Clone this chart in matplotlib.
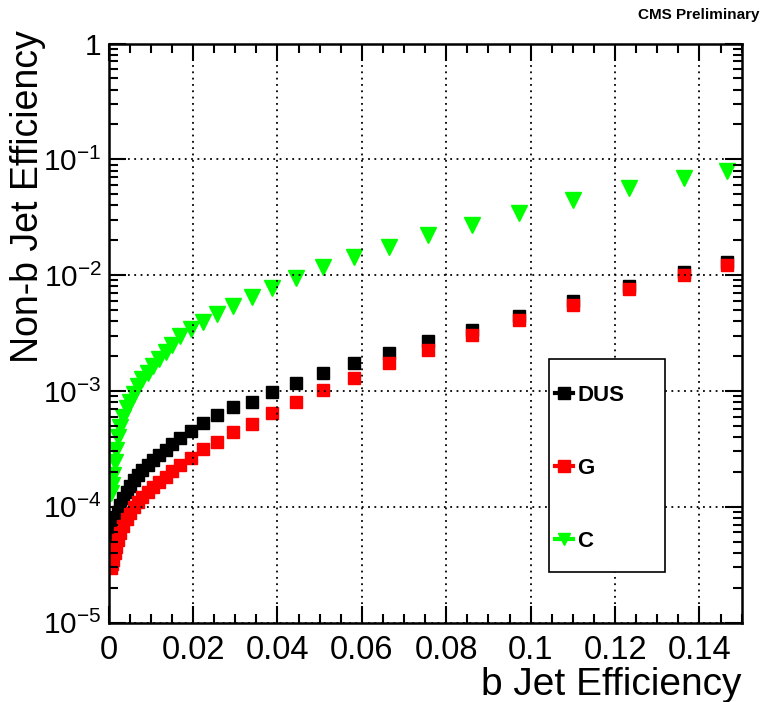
import matplotlib
matplotlib.use('Agg')
import matplotlib.pyplot as plt
from matplotlib.ticker import FixedLocator, MultipleLocator, LogLocator, FuncFormatter, NullFormatter
from matplotlib.lines import Line2D
from matplotlib.patches import Rectangle
import numpy as np

plt.rcParams['font.family'] = ['Liberation Sans', 'DejaVu Sans']
plt.rcParams['mathtext.fontset'] = 'custom'
plt.rcParams['mathtext.rm'] = 'Liberation Sans'

# b jet efficiency (common scan points)
b_eff = [0.0005, 0.0008, 0.0010, 0.0014, 0.0017, 0.0022, 0.0028, 0.0035, 0.0043,
         0.0050, 0.0061, 0.0070, 0.0080, 0.0092, 0.0106, 0.0120, 0.0135, 0.0151,
         0.0170, 0.0194, 0.0224, 0.0257, 0.0295, 0.0339, 0.0388, 0.0444, 0.0508,
         0.0581, 0.0664, 0.0756, 0.0860, 0.0973, 0.1101, 0.1234, 0.1364, 0.1466]

# mistag efficiencies
dus_eff = [5.5e-5, 5.8e-5, 6.3e-5, 7.1e-5, 8.0e-5, 9.0e-5, 1.04e-4, 1.19e-4, 1.34e-4,
           1.51e-4, 1.70e-4, 1.88e-4, 2.07e-4, 2.29e-4, 2.53e-4, 2.79e-4, 3.09e-4, 3.48e-4,
           3.94e-4, 4.53e-4, 5.31e-4, 6.19e-4, 7.22e-4, 8.1e-4, 9.84e-4, 1.18e-3, 1.42e-3,
           1.73e-3, 2.14e-3, 2.70e-3, 3.38e-3, 4.46e-3, 6.01e-3, 8.0e-3, 1.06e-2, 1.30e-2]
g_eff = [2.96e-5, 3.2e-5, 3.5e-5, 4.0e-5, 4.5e-5, 5.15e-5, 5.9e-5, 6.8e-5, 7.8e-5,
         8.8e-5, 9.9e-5, 1.10e-4, 1.22e-4, 1.35e-4, 1.49e-4, 1.64e-4, 1.82e-4, 2.03e-4,
         2.29e-4, 2.62e-4, 3.13e-4, 3.64e-4, 4.39e-4, 5.2e-4, 6.41e-4, 8.07e-4, 1.02e-3,
         1.30e-3, 1.73e-3, 2.26e-3, 3.02e-3, 4.07e-3, 5.55e-3, 7.63e-3, 9.95e-3, 1.22e-2]
c_eff = [1.31e-4, 1.55e-4, 1.88e-4, 2.43e-4, 3.09e-4, 4.0e-4, 4.88e-4, 5.98e-4, 7.08e-4,
         8.07e-4, 9.5e-4, 1.10e-3, 1.26e-3, 1.42e-3, 1.64e-3, 1.88e-3, 2.18e-3, 2.49e-3,
         2.98e-3, 3.43e-3, 3.96e-3, 4.61e-3, 5.44e-3, 6.5e-3, 7.69e-3, 9.4e-3, 1.17e-2,
         1.42e-2, 1.76e-2, 2.2e-2, 2.71e-2, 3.46e-2, 4.45e-2, 5.62e-2, 6.86e-2, 7.97e-2]

x_ticks = [0, 0.02, 0.04, 0.06, 0.08, 0.1, 0.12, 0.14]
x_tick_labels = ['0', '0.02', '0.04', '0.06', '0.08', '0.1', '0.12', '0.14']

fig = plt.figure(figsize=(7.67, 7.02), dpi=100)
ax = fig.add_axes([0.1417, 0.1132, 0.8253, 0.8248])

ax.plot(b_eff, dus_eff, ls='none', marker='s', ms=9, color='black', mec='black')
ax.plot(b_eff, g_eff, ls='none', marker='s', ms=9, color='#ff0000', mec='#ff0000')
ax.plot(b_eff, c_eff, ls='none', marker='v', ms=11, color='#00ff00', mec='#00ff00')

ax.set_yscale('log')
ax.set_xlim(0, 0.15)
ax.set_ylim(1e-5, 1)

ax.xaxis.set_major_locator(FixedLocator(x_ticks))
ax.set_xticklabels(x_tick_labels)
ax.xaxis.set_minor_locator(MultipleLocator(0.005))
ax.yaxis.set_major_locator(LogLocator(base=10, numticks=10))
ax.yaxis.set_minor_locator(LogLocator(base=10, subs=np.arange(2, 10), numticks=20))
ax.yaxis.set_minor_formatter(NullFormatter())


def ylab(v, pos):
    e = int(round(np.log10(v)))
    if e == 0:
        return '1'
    return r'$\mathregular{10^{%d}}$' % e


ax.yaxis.set_major_formatter(FuncFormatter(ylab))

ax.tick_params(which='both', direction='in', top=True, right=True, width=1.5, colors='black')
ax.tick_params(which='major', length=12)
ax.tick_params(which='minor', length=6.5)
ax.tick_params(axis='x', which='major', labelsize=23.5, pad=9)
ax.tick_params(axis='y', which='major', labelsize=21.5, pad=5)
for s in ax.spines.values():
    s.set_linewidth(1.8)

ax.grid(True, which='major', color='black', linestyle=(0, (1, 2.5)), linewidth=1.3)
ax.set_axisbelow(False)

fig.text(0.9674, 0.024, 'b Jet Efficiency', ha='right', va='center', fontsize=28)
fig.text(0.036, 0.957, 'Non-b Jet Efficiency', ha='center', va='top', rotation=90, fontsize=27)
fig.text(0.99, 0.978, 'CMS Preliminary', ha='right', va='center', fontsize=11, fontweight='bold')

# legend box (ROOT style TLegend)
box = Rectangle((0.696, 0.0877), 0.183, 0.367, transform=ax.transAxes,
                facecolor='white', edgecolor='black', linewidth=1.2, zorder=5)
ax.add_patch(box)

handles = [Line2D([], [], ls='-', lw=3, marker='s', ms=8, color='black'),
           Line2D([], [], ls='-', lw=3, marker='s', ms=8, color='#ff0000'),
           Line2D([], [], ls='-', lw=3, marker='v', ms=9, color='#00ff00')]
leg = ax.legend(handles, ['DUS', 'G', 'C'], loc='upper left',
                bbox_to_anchor=(0.705, 0.411), frameon=False,
                prop={'weight': 'bold', 'size': 16}, labelspacing=2.35,
                borderpad=0, handlelength=0.8, handletextpad=0.22, borderaxespad=0)
leg.set_zorder(6)

plt.savefig('out.png', dpi=100)
